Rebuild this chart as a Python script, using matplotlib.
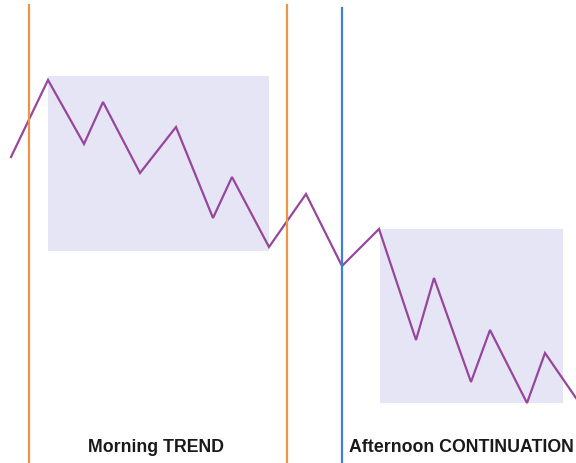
import matplotlib.pyplot as plt
from matplotlib.patches import Rectangle

# time index (x) and price (y)
time = [11, 48, 84, 103, 140, 176, 213, 232, 269, 306, 342, 379, 416, 434, 471, 490, 527, 545, 576]
price = [306, 383, 319, 361, 290, 336, 245, 286, 216, 269, 197, 234, 123, 185, 81, 133, 60, 110, 65]

# session boundaries
morning_bounds = [29, 287]
afternoon_start = [342]

# shaded zones: (x0, x1, y_low, y_high)
zones = [(48, 269, 212, 387), (380, 563, 60, 234)]

labels = ["Morning TREND", "Afternoon CONTINUATION"]
label_x = [156, 461]

fig = plt.figure(figsize=(5.76, 4.63), dpi=100)
ax = fig.add_axes([0, 0, 1, 1])
ax.set_xlim(0, 576)
ax.set_ylim(0, 463)
ax.axis('off')

for x0, x1, ylo, yhi in zones:
    ax.add_patch(Rectangle((x0, ylo), x1 - x0, yhi - ylo, facecolor='#e6e5f6', edgecolor='none', zorder=1))

ax.plot(time, price, color='#96479b', lw=1.6, zorder=3, solid_joinstyle='miter')

for x in morning_bounds:
    ax.plot([x, x], [0, 458], color='#e9954a', lw=1.6, zorder=4)
for x in afternoon_start:
    ax.plot([x, x], [0, 455], color='#3f7fd6', lw=1.6, zorder=4)

for t, lx in zip(labels, label_x):
    ax.text(lx, 15, t, ha='center', va='center', fontsize=12.8, fontweight='bold',
            family='Liberation Sans', color='#1a1a1a', zorder=5)

fig.savefig('out.png', dpi=100, facecolor='white')
